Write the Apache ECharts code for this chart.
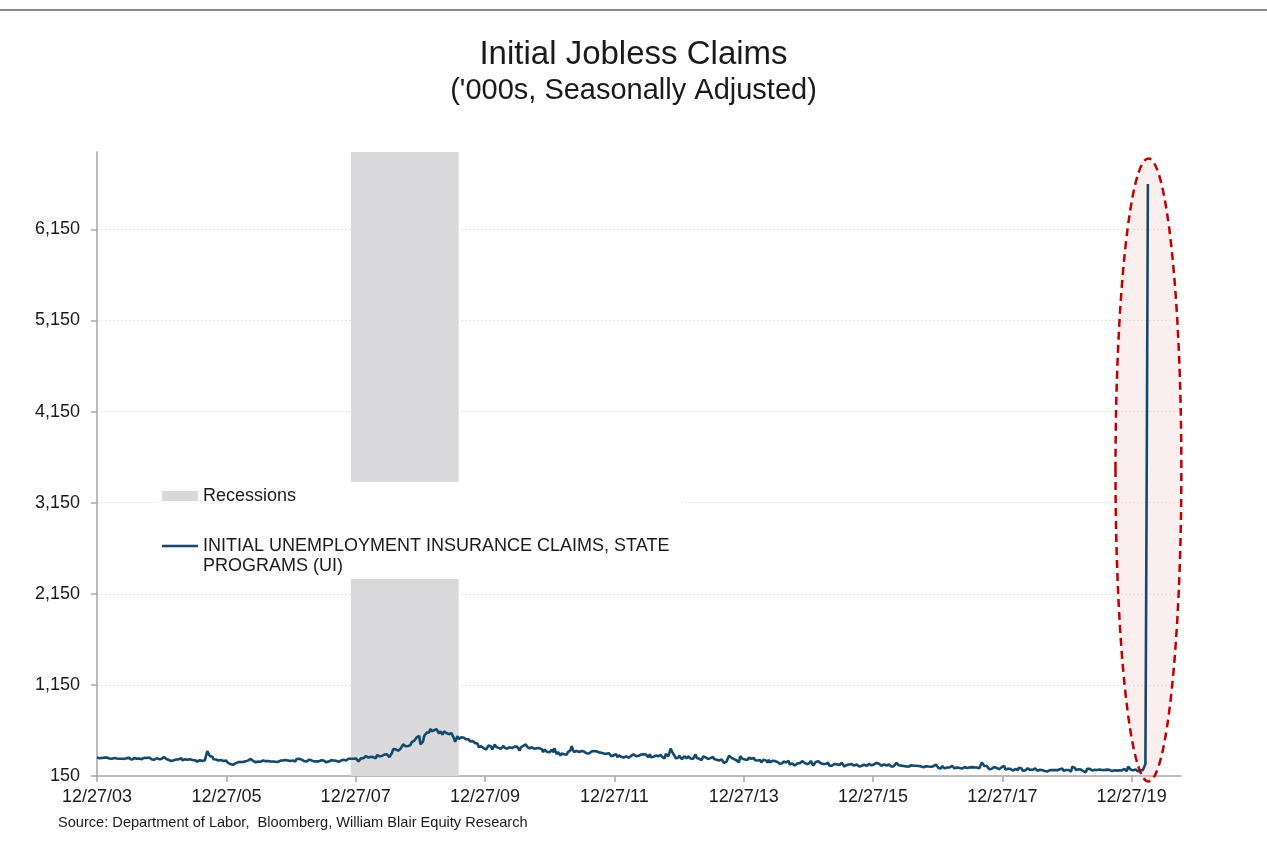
<!DOCTYPE html>
<html><head><meta charset="utf-8">
<script src="https://cdn.jsdelivr.net/npm/echarts@6/dist/echarts.min.js"></script>
<style>html,body{margin:0;padding:0;background:#fff}#c{width:1267px;height:859px}</style>
</head><body><div id="c"></div>
<script>
// ---- data: weekly initial claims ('000s, SA), weeks ending Saturdays from 12/27/03 ----
const startDate = '2003-12-27';
const claims2003 = [352];
const claims2004 = [353,346,354,348,357, 352,345,353,347, 343,337,340,333, 348,354,342,335, 339,330,340,345,338, 348,346,355,349, 337,328,342,346,338, 341,337,342,344, 335,333,350,362, 348,342,353,338,335, 337,328,334,345, 347,335,333,337];
const claims2005 = [346,358,372,336,328, 325,320,313,310, 323,329,331,330, 333,332,346,323,327, 334,331,328,340, 335,336,325,318, 323,332,309,315,323, 324,314,319,322, 323,423,405,370, 376,362,334,326,331, 322,320,313,325, 324,315,312,320,305];
const claims2006 = [291,286,280,286, 274,295,291,298, 302,306,304,300, 305,303,311,320,322, 327,337,322,316, 305,301,304,310, 315,306,318,321,309, 313,316,314,318, 311,317,310,308,307, 309,304,316,319, 315,321,325,326, 319,321,315,314,318];
const claims2007 = [321,304,309,336, 318,340,338,330, 326,316,319,308,322, 329,336,322,307, 310,303,311,306, 311,316,323,315,320, 310,300,305,309, 314,324,318,320, 322,316,311,306,315, 320,332,329,327, 321,336,340,350, 339,337,339,348,343];
const claims2008 = [325,310,320,343, 358,345,352,369, 358,353,374,362,376, 357,372,343,381, 361,366,370,370,379, 386,385,388,404, 357,366,402,446, 456,442,436,428,449, 450,455,497,497, 476,464,479,483, 489,522,533,538,517, 575,558,589,498];
const claims2009 = [488,527,588,588,626, 626,629,668,641, 658,652,666,665, 653,614,640,620, 604,640,632,622,613, 609,615,621,614, 565,525,561,587, 557,565,576,567,570, 551,553,535,553, 529,522,534,527,511, 503,507,469,479, 475,483,457,440];
const claims2010 = [441,460,486,472,474, 441,471,496,470, 463,459,446,449, 464,481,459,457, 450,461,467,462,456, 460,472,460,472, 457,429,465,468,482, 487,498,475,472, 453,462,465,456, 449,462,455,436,457, 436,441,410,440, 422,417,425,410];
const claims2011 = [406,440,410,454,418, 389,413,393,374, 397,388,388,392, 385,412,405,431,478, 438,413,425,426, 427,414,431,425, 418,418,422,400,402, 397,409,419,425, 425,431,422,401, 409,407,406,402,398, 394,393,397,401, 382,366,366,378,377];
const claims2012 = [388,355,377,367, 360,353,353,358, 365,356,351,366,370, 380,388,392,368, 370,372,374,385, 383,389,391,385,372, 355,389,356,368, 361,368,374,376, 367,385,382,359,369, 342,392,372,365, 355,451,416,396, 372,344,361,350,372];
const claims2013 = [371,335,330,367, 365,343,366,346, 342,334,338,359,388, 348,354,339,327, 324,363,344,356, 349,336,354,346,343, 358,336,346,328, 332,320,336,331,323, 294,305,308,310, 373,358,350,339, 336,339,323,316,298, 368,379,338,339];
const claims2014 = [330,325,329,351, 331,339,336,348, 323,315,320,311,326, 300,305,329,345, 319,297,327,300,312, 317,312,314,315, 304,302,284,303, 289,311,298,298,302, 315,280,295,288, 287,264,284,288, 278,291,292,313,297, 294,289,280,298];
const claims2015 = [294,316,307,265,278, 304,283,313,325, 289,291,282,268, 282,295,296,263, 266,264,274,282,276, 279,267,271,282, 296,282,255,267, 270,274,277,282,281, 275,264,267,277, 263,255,259,260,276, 276,271,261,269, 282,272,267,287];
const claims2016 = [277,284,293,278,285, 269,262,272,278, 258,265,265,276, 267,253,248,257,274, 294,278,268,267, 264,277,259,268, 254,254,253,266,269, 266,262,261,263, 259,260,252,254, 249,246,260,258,265, 254,235,251,268, 258,254,275,265,237];
const claims2017 = [247,234,259,246, 234,239,244,223, 243,241,261,258, 234,234,243,257,238, 236,232,234,248, 245,237,241,244, 250,247,233,245,240, 244,232,235,236, 298,282,259,272,260, 243,223,234,229, 239,249,240,238, 236,225,245,247,250];
const claims2018 = [261,220,233,230, 221,229,222,210, 231,226,229,215,242, 233,232,209,211, 211,222,234,221, 218,218,218,228,232, 214,207,217,218, 214,212,210,204, 205,201,201,214,207, 214,210,215,214, 214,221,224,235, 231,206,217,216,231];
const claims2019 = [216,213,199,253, 234,239,216,225, 223,229,221,211,202, 196,192,230,230, 228,212,211,215, 218,222,216,227,222, 209,216,206,215, 209,220,211,217,219, 204,208,213,220, 209,214,212,217, 211,225,227,213,203, 252,235,222,220];
const claims2020 = [212,207,222,216, 201,206,211,216,217, 211,282,3307,6648];

const recessionDates = ['2007-11-30', '2009-07-31'];
const yTicks = [150, 1150, 2150, 3150, 4150, 5150, 6150];
const xTickDates = ['2003-12-27','2005-12-27','2007-12-27','2009-12-27','2011-12-27','2013-12-27','2015-12-27','2017-12-27','2019-12-27'];
const axisEndDate = '2020-10-01';
const seriesName = 'INITIAL UNEMPLOYMENT INSURANCE CLAIMS, STATE PROGRAMS (UI)';
const seriesLegendLines = ['INITIAL UNEMPLOYMENT INSURANCE CLAIMS, STATE', 'PROGRAMS (UI)'];
const recessionName = 'Recessions';

// ---- build ----
const DAY = 86400000;
const toDay = s => Math.round((Date.parse(s) - Date.parse(startDate)) / DAY);
const allClaims = [].concat(claims2003, claims2004, claims2005, claims2006, claims2007, claims2008,
  claims2009, claims2010, claims2011, claims2012, claims2013, claims2014, claims2015, claims2016,
  claims2017, claims2018, claims2019, claims2020);
const lineData = allClaims.map((v, i) => [i * 7, v]);
const fmtDate = v => {
  const d = new Date(Date.parse(startDate) + Math.round(v) * DAY);
  const p = n => String(n).padStart(2, '0');
  return p(d.getUTCMonth() + 1) + '/' + p(d.getUTCDate()) + '/' + p(d.getUTCFullYear() % 100);
};
const FONT = 'Liberation Sans, Arial, Helvetica, sans-serif';
const TXT = '#1a1a1a';
const LINE_COLOR = '#12496c';
const BAND_COLOR = '#dadadc';

const chart = echarts.init(document.getElementById('c'), null, { renderer: 'canvas' });
chart.setOption({
  animation: false,
  backgroundColor: '#fff',
  textStyle: { fontFamily: FONT },
  title: [
    { text: 'Initial Jobless Claims', left: 'center', top: 33,
      textStyle: { fontSize: 33, fontWeight: 'normal', color: TXT, fontFamily: FONT } },
    { text: "('000s, Seasonally Adjusted)", left: 'center', top: 71,
      textStyle: { fontSize: 29, fontWeight: 'normal', color: TXT, fontFamily: FONT } },
    { text: 'Source: Department of Labor,  Bloomberg, William Blair Equity Research', left: 53, top: 810,
      textStyle: { fontSize: 14.6, fontWeight: 'normal', color: TXT, fontFamily: FONT } }
  ],
  grid: { left: 97, right: 86, top: 152, bottom: 83, containLabel: false },
  legend: {
    orient: 'vertical', left: 158, top: 482,
    backgroundColor: '#fff', padding: [4, 12, 3, 4],
    itemWidth: 36, itemHeight: 10, itemGap: 10, textGap: 4, z: 10,
    selectedMode: false,
    textStyle: { fontSize: 18, color: TXT, fontFamily: FONT, lineHeight: 20 },
    formatter: name => name === seriesName ? '\n' + seriesLegendLines.join('\n') : name,
    data: [
      { name: recessionName, icon: 'rect', itemStyle: { color: BAND_COLOR } },
      { name: seriesName, icon: 'path://M0,0H36V2.6H0Z', itemStyle: { color: LINE_COLOR, borderWidth: 0 } }
    ]
  },
  xAxis: {
    type: 'value', min: 0, max: toDay(axisEndDate),
    axisLine: { show: true, onZero: false, lineStyle: { color: '#a6a6a6', width: 1.5 } },
    axisTick: { show: true, length: 6, lineStyle: { color: '#a6a6a6', width: 1.5 },
      customValues: xTickDates.map(toDay) },
    axisLabel: { fontSize: 18, color: TXT, margin: 12, fontFamily: FONT,
      customValues: xTickDates.map(toDay), formatter: v => fmtDate(v) },
    splitLine: { show: false }
  },
  yAxis: {
    type: 'value', min: 150, max: 7000,
    axisLine: { show: true, lineStyle: { color: '#a6a6a6', width: 1.5 } },
    axisTick: { show: true, length: 6, lineStyle: { color: '#a6a6a6', width: 1.5 }, customValues: yTicks },
    axisLabel: { fontSize: 18, color: TXT, margin: 17, fontFamily: FONT, customValues: yTicks,
      formatter: v => Number(v).toLocaleString('en-US') },
    splitLine: { show: true, showMinLine: false,
      lineStyle: { color: '#e4e4e4', type: [2, 2], width: 1 } }
  },
  series: [
    { name: recessionName, type: 'line', data: [], symbol: 'none',
      itemStyle: { color: BAND_COLOR }, lineStyle: { color: BAND_COLOR },
      markArea: { silent: true, itemStyle: { color: BAND_COLOR },
        data: [[{ xAxis: toDay(recessionDates[0]) }, { xAxis: toDay(recessionDates[1]) }]] }
    },
    { name: seriesName, type: 'line', data: lineData, symbol: 'none', showSymbol: false, z: 3,
      itemStyle: { color: LINE_COLOR }, lineStyle: { color: LINE_COLOR, width: 2.6 } }
  ]
});

// ---- annotations placed through the axes ----
const ellCenter = [toDay('2020-03-31'), 3510];
const ellHalfH = 3420, ellHalfW = 186;
const c = chart.convertToPixel({ gridIndex: 0 }, ellCenter);
const t = chart.convertToPixel({ gridIndex: 0 }, [ellCenter[0], ellCenter[1] + ellHalfH]);
const r = chart.convertToPixel({ gridIndex: 0 }, [ellCenter[0] + ellHalfW, ellCenter[1]]);
const rx = r[0] - c[0], ry = c[1] - t[1];
chart.setOption({
  graphic: [
    { type: 'line', z: 5, shape: { x1: 0, y1: 10, x2: 1267, y2: 10 }, style: { stroke: '#8c8c8c', lineWidth: 2 } },
    { type: 'ellipse', z: 1, silent: true, shape: { cx: c[0], cy: c[1], rx: rx, ry: ry },
      style: { fill: 'rgba(240,200,200,0.3)', stroke: null } },
    { type: 'ellipse', z: 50, silent: true, shape: { cx: c[0], cy: c[1], rx: rx, ry: ry },
      style: { fill: null, stroke: '#c00000', lineWidth: 2.5, lineDash: [8, 5] } }
  ]
});
</script></body></html>
